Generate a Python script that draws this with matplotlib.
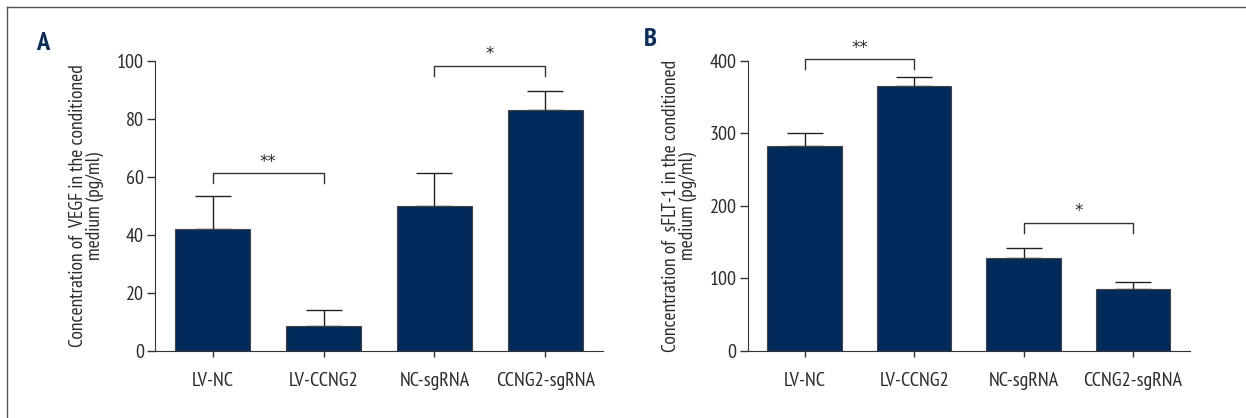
import matplotlib.pyplot as plt
from matplotlib.lines import Line2D

# condensed face like the original figure; falls back if missing
plt.rcParams['font.family'] = ['PT Sans Narrow', 'Roboto Condensed', 'Archivo Narrow', 'DejaVu Sans']

# data
cats = ['LV-NC', 'LV-CCNG2', 'NC-sgRNA', 'CCNG2-sgRNA']
vegf = [42, 8.7, 50, 83]
vegf_err = [11.5, 5.3, 11.3, 6.5]
sflt = [282, 365, 128, 85]
sflt_err = [18, 13, 13.5, 10.5]

# significance brackets: (left, right, top, leg end, label)
vegf_sig = [(0, 1, 61.4, 58, '**'), (2, 3, 98.4, 94.8, '*')]
sflt_sig = [(0, 1, 402.7, 388.5, '**'), (2, 3, 176.7, 162, '*')]

bar_color = '#022b5b'
letter_color = '#0b2d5c'
txt_color = '#2b2b2b'

fig = plt.figure(figsize=(12.46, 4.18), dpi=100)

# thin frame at top and left
fig.add_artist(Line2D([7/1246, 7/1246], [0, 1 - 7/418], color='#555555', lw=1))
fig.add_artist(Line2D([7/1246, 1], [1 - 7/418, 1 - 7/418], color='#555555', lw=1))


def draw_panel(ax, vals, errs, ymax, step, ylabel, sig):
    x = range(len(cats))
    ax.bar(x, vals, width=0.68, color=bar_color, edgecolor='#444444', linewidth=0.8, zorder=2)
    ax.errorbar(x, vals, yerr=[[0] * len(vals), errs], fmt='none', ecolor='#222222',
                elinewidth=1, capsize=13, capthick=1, zorder=1)
    ax.set_xlim(-0.52, 3.52)
    ax.set_ylim(0, ymax)
    ax.set_yticks(range(0, ymax + 1, step))
    ax.set_xticks(list(x))
    ax.set_xticklabels(cats, fontsize=14.5, color=txt_color)
    ax.tick_params(axis='y', labelsize=14.5, labelcolor=txt_color, length=6, width=1, pad=2,
                   color='#333333')
    ax.tick_params(axis='x', length=4, width=1, pad=11, color='#333333')
    ax.spines['top'].set_visible(False)
    ax.spines['right'].set_visible(False)
    ax.spines['left'].set_color('#333333')
    ax.spines['bottom'].set_color('#333333')
    ax.set_ylabel(ylabel, fontsize=14, linespacing=0.95, labelpad=9, color=txt_color)
    for a, b, top, leg, lab in sig:
        ax.plot([a, a, b, b], [leg, top, top, leg], color='#333333', lw=1, clip_on=False)
        ax.text((a + b) / 2, top + ymax * 0.008, lab, ha='center', va='bottom',
                fontsize=12, color=txt_color, clip_on=False, family=['DejaVu Sans'])


axA = fig.add_axes([0.1244, 0.161, 0.3596, 0.693])
draw_panel(axA, vegf, vegf_err, 100, 20,
           'Concentration of  VEGF in the conditioned\nmedium (pg/ml)', vegf_sig)

axB = fig.add_axes([0.6001, 0.161, 0.355, 0.693])
draw_panel(axB, sflt, sflt_err, 400, 100,
           'Concentration of  sFLT-1 in the conditioned\nmedium (pg/ml)', sflt_sig)

fig.text(43/1246, 1 - 43/418, 'A', fontsize=19, fontweight='bold', color=letter_color,
         ha='center', va='center')
fig.text(650/1246, 1 - 40/418, 'B', fontsize=19, fontweight='bold', color=letter_color,
         ha='center', va='center')

plt.savefig('out.png', dpi=100)
